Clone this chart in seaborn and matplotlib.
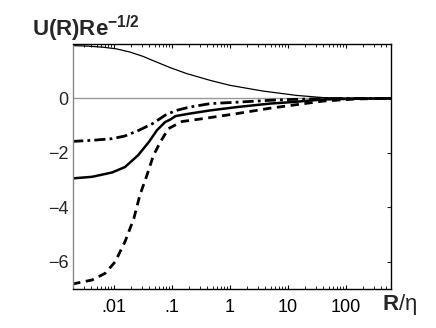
import numpy as np
import pandas as pd
import seaborn as sns
import matplotlib
matplotlib.use("Agg")
import matplotlib.pyplot as plt
from matplotlib.ticker import FixedLocator, FixedFormatter, LogLocator, NullFormatter

# values (R/eta, U(R) Re^-1/2)
r_thin = [0.00195, 0.0035, 0.0065, 0.011, 0.019, 0.032, 0.047, 0.093, 0.18, 0.46, 1.0, 3.7, 14, 40, 160, 600]
u_thin = [1.94, 1.92, 1.88, 1.82, 1.70, 1.54, 1.39, 1.13, 0.91, 0.66, 0.48, 0.27, 0.11, 0.03, 0.0, 0.0]

r_solid = [0.0019, 0.0042, 0.0093, 0.0155, 0.026, 0.040, 0.055, 0.076, 0.093, 0.115, 0.20, 0.46, 1.3, 4.9, 11, 40, 150, 600]
u_solid = [-2.94, -2.88, -2.72, -2.52, -2.09, -1.60, -1.17, -0.87, -0.78, -0.65, -0.56, -0.44, -0.32, -0.19, -0.14, -0.04, -0.01, 0.0]

r_dashdot = [0.0019, 0.0042, 0.0093, 0.0155, 0.027, 0.046, 0.076, 0.115, 0.20, 0.46, 1.3, 4.9, 11, 40, 150, 600]
u_dashdot = [-1.58, -1.54, -1.48, -1.38, -1.17, -0.93, -0.62, -0.45, -0.32, -0.19, -0.14, -0.07, -0.04, -0.01, 0.0, 0.0]

r_dashed = [0.0019, 0.0042, 0.0071, 0.0105, 0.0155, 0.022, 0.028, 0.037, 0.048, 0.063, 0.087, 0.148, 0.35, 1.3, 4.9, 11, 40, 150, 600]
u_dashed = [-6.82, -6.67, -6.42, -6.0, -5.26, -4.41, -3.55, -2.82, -2.09, -1.6, -1.11, -0.85, -0.74, -0.56, -0.36, -0.26, -0.1, -0.02, 0.0]

xticks = [0.01, 0.1, 1, 10, 100]
xticklabels = [".01", ".1", "1", "10", "100"]
yticks = [-6, -4, -2, 0]
yticklabels = ["\u22126", "\u22124", "\u22122", "0"]

sns.set_style("white")
plt.rcParams["font.family"] = ["Liberation Sans", "DejaVu Sans"]
plt.rcParams["mathtext.fontset"] = "custom"
plt.rcParams["mathtext.rm"] = "Liberation Sans"
plt.rcParams["mathtext.bf"] = "Liberation Sans:bold"

fig = plt.figure(figsize=(4.36, 3.28), dpi=100)
ax = fig.add_axes([0.167, 0.119, 0.730, 0.747])

ax.axhline(0, color="#999999", lw=1.0, zorder=1)

sns.lineplot(x=r_thin, y=u_thin, ax=ax, color="black", lw=0.9, sort=False)
sns.lineplot(x=r_solid, y=u_solid, ax=ax, color="black", lw=1.8, sort=False)
ax.plot(r_dashdot, u_dashdot, color="black", lw=2.0, dashes=(4, 1.5, 1, 1.5))
ax.plot(r_dashed, u_dashed, color="black", lw=2.0, dashes=(3, 2))

ax.set_xscale("log")
ax.set_xlim(0.00195, 600)
ax.set_ylim(-7, 2)

ax.xaxis.set_major_locator(FixedLocator(xticks))
ax.xaxis.set_major_formatter(FixedFormatter(xticklabels))
ax.xaxis.set_minor_locator(LogLocator(base=10, subs=np.arange(2, 10)))
ax.xaxis.set_minor_formatter(NullFormatter())
ax.set_yticks(yticks)
ax.set_yticklabels(yticklabels)

ax.tick_params(axis="x", which="both", direction="in", top=True, bottom=True,
               labelsize=13, pad=7, colors="black")
ax.tick_params(axis="x", which="major", length=3)
ax.tick_params(axis="x", which="minor", length=2)
ax.tick_params(axis="y", direction="in", left=False, right=True, length=3,
               labelsize=13, pad=3)

for s in ["top", "bottom", "right"]:
    ax.spines[s].set_color("black")
    ax.spines[s].set_linewidth(1.0)
ax.spines["left"].set_color("#888888")
ax.spines["left"].set_linewidth(1.0)

ax.set_xlabel("")
ax.set_ylabel("")
fig.text(0.073, 0.89, r"$\mathbf{U(R)Re}^{\mathbf{-1/2}}$", fontsize=16, ha="left", va="baseline")
fig.text(0.876, 0.073, r"$\mathbf{R}$/$\mathrm{\eta}$", fontsize=16, ha="left", va="center")

fig.savefig("out.png", dpi=100)
